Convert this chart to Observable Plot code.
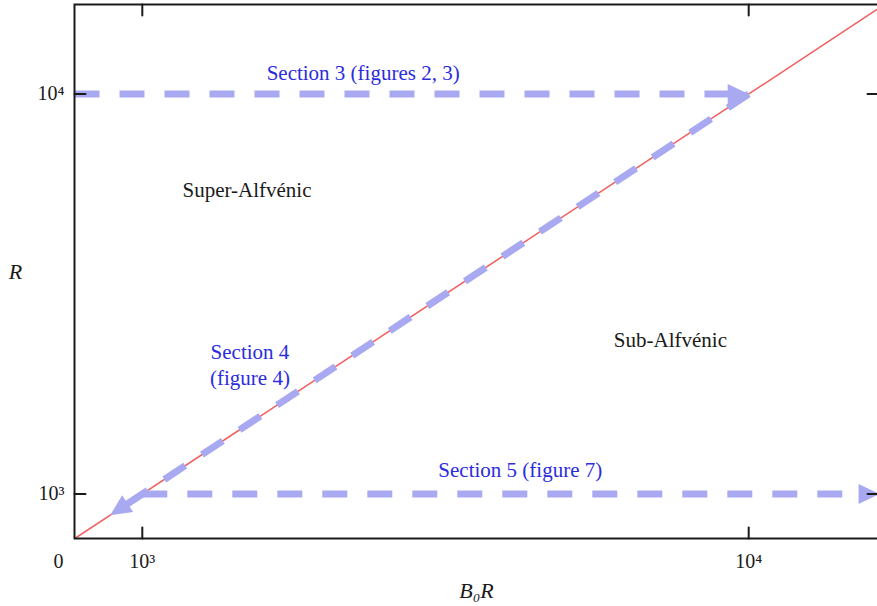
<!DOCTYPE html>
<html>
<head>
<meta charset="utf-8">
<script src="https://cdn.jsdelivr.net/npm/d3@7"></script>
<script src="https://cdn.jsdelivr.net/npm/@observablehq/plot@0.6"></script>
<style>
  html, body { margin: 0; padding: 0; background: #fff; overflow: hidden; }
</style>
</head>
<body>
<div id="chart"></div>
<script>
// Axis extents: B0R horizontally, R vertically, both logarithmic
const xDomain = [773, 16370];
const yDomain = [774, 16745];
const xTicks = [1000, 10000];
const yTicks = [1000, 10000];
const tickLabels = ["10³", "10⁴"];

// Regime boundary R = B0R
const boundary = [774, 16745];

// Parameter sweeps (start → end) studied in each section
const sweepNames = ["Section 3", "Section 4", "Section 5"];
const sweepFromB0R = [773, 10000, 1000];
const sweepFromR = [10000, 10000, 1000];
const sweepToB0R = [10000, 885, 16435];
const sweepToR = [10000, 885, 1000];

// Region names
const regionNames = ["Super-Alfvénic", "Sub-Alfvénic"];
const regionB0R = [1488, 7429];
const regionR = [5757, 2422];

// Sweep annotations
const sectionNames = ["Section 3 (figures 2, 3)", "Section 4\n(figure 4)", "Section 5 (figure 7)"];
const sectionB0R = [2313, 1505, 4201];
const sectionR = [11374, 2115, 1157];

// Layout (the right-hand frame edge sits just past the visible page)
const W = 881, H = 606;
const mL = 74, mR = 3, mT = 4, mB = 68;
const pxPerDecX = (W - mL - mR) / Math.log10(xDomain[1] / xDomain[0]);
const pxPerDecY = (H - mT - mB) / Math.log10(yDomain[1] / yDomain[0]);

// Screen heading of each sweep (0° = up, clockwise), for its arrowhead
function heading(i) {
  const dx = Math.log10(sweepToB0R[i] / sweepFromB0R[i]) * pxPerDecX;
  const dy = -Math.log10(sweepToR[i] / sweepFromR[i]) * pxPerDecY;
  return Math.atan2(dx, -dy) * 180 / Math.PI;
}

const sweeps = sweepNames.map((name, i) => ({
  name,
  x1: sweepFromB0R[i], y1: sweepFromR[i],
  x2: sweepToB0R[i], y2: sweepToR[i],
  angle: heading(i)
}));
const regions = regionNames.map((name, i) => ({name, x: regionB0R[i], y: regionR[i]}));
const sections = sectionNames.map((name, i) => ({name, x: sectionB0R[i], y: sectionR[i]}));

const sweepColor = "#a9a9f1";
const labelBlue = "#2c2cdc";
const ink = "#1a1a1a";

// Short straight tick drawn inward from the frame
const tickShape = {draw(context, l) { context.moveTo(0, 0); context.lineTo(0, -l); }};
const tickLen = 11;

const chart = Plot.plot({
  width: W,
  height: H,
  marginLeft: mL,
  marginRight: mR,
  marginTop: mT,
  marginBottom: mB,
  x: {type: "log", domain: xDomain, axis: null},
  y: {type: "log", domain: yDomain, axis: null},
  style: {fontFamily: "'Liberation Serif', 'Times New Roman', serif", fontSize: "20px", background: "#fff", color: ink},
  marks: [
    // R = B0R boundary
    Plot.line(boundary, {x: d => d, y: d => d, stroke: "#f25c5c", strokeWidth: 1.5, clip: true}),

    // Dashed sweep paths
    Plot.arrow(sweeps, {
      x1: "x1", y1: "y1", x2: "x2", y2: "y2",
      bend: 0, headLength: 0, insetEnd: 16,
      stroke: sweepColor, strokeWidth: 7,
      strokeDasharray: "25,20", strokeLinecap: "butt",
      clip: true
    }),
    // Filled arrowheads
    Plot.vector(sweeps, {
      x: "x2", y: "y2", rotate: "angle",
      length: 21, r: 10, shape: "spike", anchor: "end",
      fill: sweepColor, stroke: "none"
    }),

    // Frame and inward ticks
    Plot.frame({stroke: ink, strokeWidth: 2}),
    Plot.vector(xTicks, {x: d => d, frameAnchor: "bottom", rotate: 0, length: tickLen, anchor: "start", shape: tickShape, stroke: ink, strokeWidth: 2}),
    Plot.vector(xTicks, {x: d => d, frameAnchor: "top", rotate: 180, length: tickLen, anchor: "start", shape: tickShape, stroke: ink, strokeWidth: 2}),
    Plot.vector(yTicks, {y: d => d, frameAnchor: "left", rotate: 90, length: tickLen, anchor: "start", shape: tickShape, stroke: ink, strokeWidth: 2}),
    Plot.vector(yTicks, {y: d => d, frameAnchor: "right", rotate: -90, length: tickLen, anchor: "start", shape: tickShape, stroke: ink, strokeWidth: 2}),

    // Tick labels
    Plot.text(xTicks, {x: d => d, frameAnchor: "bottom", lineAnchor: "middle", dy: 23, text: (d, i) => tickLabels[i], fontSize: 20, fill: ink}),
    Plot.text(["0"], {frameAnchor: "bottom-left", textAnchor: "middle", lineAnchor: "middle", dx: -16, dy: 23, text: d => d, fontSize: 20, fill: ink}),
    Plot.text(yTicks, {y: d => d, frameAnchor: "left", textAnchor: "end", lineAnchor: "middle", dx: -10, text: (d, i) => tickLabels[i], fontSize: 20, fill: ink}),

    // Axis titles
    Plot.text(["B₀R"], {frameAnchor: "bottom", lineAnchor: "middle", dy: 52, text: d => d, fontSize: 22, fontStyle: "italic", fill: ink}),
    Plot.text(["R"], {frameAnchor: "left", textAnchor: "middle", lineAnchor: "middle", dx: -59, text: d => d, fontSize: 22, fontStyle: "italic", fill: ink}),

    // Region and section annotations
    Plot.text(regions, {x: "x", y: "y", text: "name", fontSize: 21, fill: ink}),
    Plot.text(sections, {x: "x", y: "y", text: "name", fontSize: 21, lineHeight: 1.2, fill: labelBlue})
  ]
});

// Keep the drawing at its own pixel size rather than shrinking to the page
chart.style.maxWidth = "none";
document.getElementById("chart").append(chart);
</script>
</body>
</html>
